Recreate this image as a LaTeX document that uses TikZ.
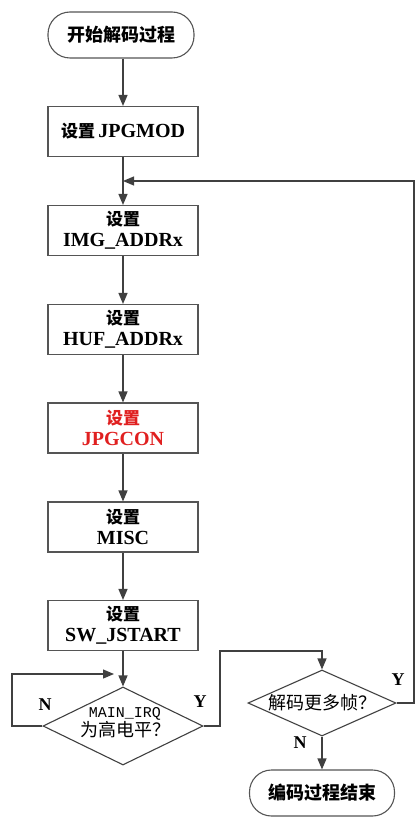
\documentclass[tikz,border=0pt]{standalone}
\usepackage{fontspec}
\setmainfont{Liberation Serif}
\newfontfamily\cjk{Noto Sans CJK SC}
\newfontfamily\monof{Liberation Mono}
\usetikzlibrary{shapes.geometric,arrows.meta}
\definecolor{ln}{HTML}{404040}
\definecolor{bd}{HTML}{555555}
\definecolor{rd}{HTML}{E02020}
\newcommand{\shez}{{\cjk\bfseries\fontsize{17}{19}\selectfont 设置}}
\begin{document}
\begin{tikzpicture}[x=1pt,y=-1pt,
  every node/.style={font=\bfseries},
  term/.style={draw=bd,line width=1.1pt,rectangle,rounded corners=22pt,minimum width=146pt,minimum height=46pt,inner sep=0pt,align=center,font=\cjk\bfseries\fontsize{18}{20}\selectfont},
  stepbox/.style={draw=bd,line width=1.1pt,rectangle,minimum width=150pt,minimum height=50pt,inner sep=0pt,align=center,font=\fontsize{20}{21}\selectfont\bfseries},
  dec/.style={draw=ln,line width=1.1pt,diamond,inner sep=0pt,align=center},
  conn/.style={draw=ln,line width=1.2pt,-{Triangle[length=11pt,width=9pt]}},
  lbl/.style={font=\fontsize{18}{20}\selectfont\bfseries}]
\useasboundingbox (0,0) rectangle (416,818);
\node[term] (start) at (121,35) {开始解码过程};
\node[stepbox] (jpgmod) at (123,131.5) {\shez\,JPGMOD};
\node[stepbox] (img) at (123,230.5) {\shez\\IMG\_ADDRx};
\node[stepbox] (huf) at (123,329.5) {\shez\\HUF\_ADDRx};
\node[stepbox,text=rd] (con) at (123,428) {\shez\\JPGCON};
\node[stepbox] (misc) at (123,527) {\shez\\MISC};
\node[stepbox] (sw) at (123,625.5) {\shez\\SW\_JSTART};
\node[dec,minimum width=160pt,minimum height=78pt] (irq) at (123,726) {};
\node[align=center] (irqt) at (125,723) {{\monof\fontsize{15}{16}\selectfont\mdseries MAIN\_IRQ}\\[0pt]{\cjk\fontsize{18}{20}\selectfont\mdseries 为高电平？}};
\node[dec,minimum width=148pt,minimum height=66pt] (more) at (322,703) {};
\node[font=\cjk\fontsize{18}{20}\selectfont] (moret) at (322,703) {解码更多帧？};
\node[term,minimum width=145pt] (stop) at (322,793) {编码过程结束};
\coordinate (m) at (123,181);
\coordinate (r1) at (414,703);
\coordinate (r2) at (414,181);
\coordinate (la) at (12,724);
\coordinate (lb) at (12,674);
\coordinate (lc) at (114,674);
\coordinate (ya) at (220,726);
\coordinate (yb) at (220,651);
\coordinate (yc) at (322,651);
\draw[conn] (start.south -| 123,0) -- (jpgmod.north);
\draw[conn] (jpgmod) -- (img);
\draw[conn] (img) -- (huf);
\draw[conn] (huf) -- (con);
\draw[conn] (con) -- (misc);
\draw[conn] (misc) -- (sw);
\draw[conn] (sw.south) -- (irq.north);
\draw[conn] (irq.west) -- (la |- irq.west) -- (lb) -- (lc);
\draw[conn] (irq.east) -- (ya) -- (yb) -- (yc) -- (more.north);
\draw[conn] (more.east) -- (r1) -- (r2) -- (m);
\draw[conn] (more.south) -- (stop.north);
\node[lbl] at (45,705) {N};
\node[lbl] at (200,702) {Y};
\node[lbl] at (398,680) {Y};
\node[lbl] at (300,743) {N};
\end{tikzpicture}
\end{document}
